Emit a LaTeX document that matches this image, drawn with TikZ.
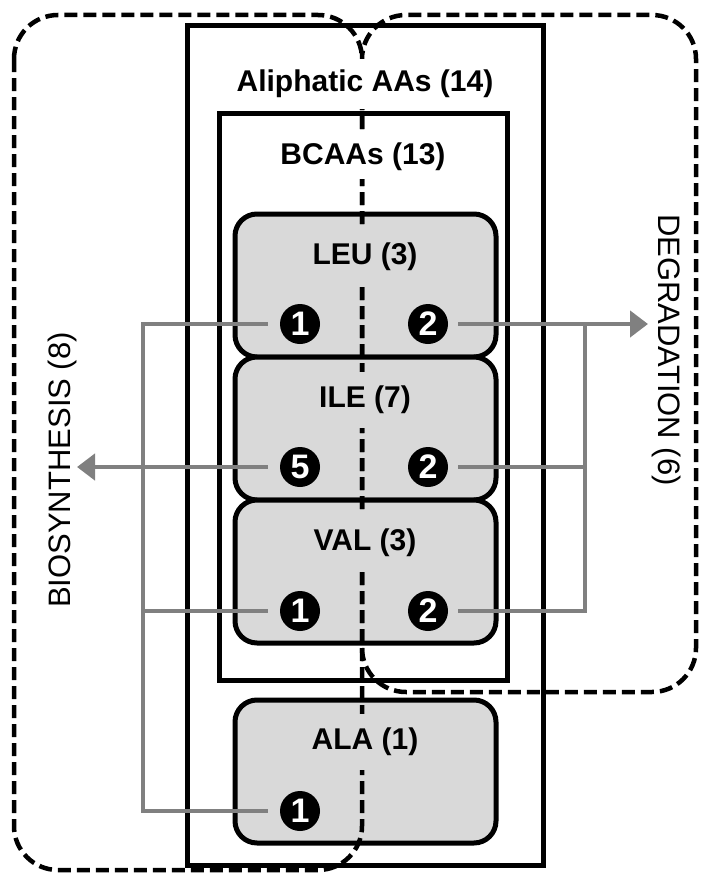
\documentclass[tikz,border=0pt]{standalone}
\usepackage{fontspec}
\setmainfont{Liberation Sans}
\usetikzlibrary{arrows.meta}
\definecolor{boxgray}{RGB}{217,217,217}
\definecolor{conngray}{RGB}{128,128,128}
\begin{document}
\begin{tikzpicture}[x=1pt,y=-1pt,
  outerframe/.style={draw=black,line width=5pt,rectangle,inner sep=0pt},
  aabox/.style={draw=black,line width=5pt,fill=boxgray,rounded corners=22pt,rectangle,inner sep=0pt,minimum width=261pt,minimum height=143pt},
  dashregion/.style={draw=black,line width=4.5pt,dash pattern=on 13pt off 6pt,rounded corners=44pt},
  titletext/.style={font=\bfseries\fontsize{30}{36}\selectfont,inner xsep=5pt,inner ysep=2pt},
  aalabel/.style={titletext,fill=boxgray,minimum height=56pt},
  badge/.style={circle,fill=black,minimum size=40pt,inner sep=0pt,text=white,font=\bfseries\fontsize{34}{34}\selectfont},
  conn/.style={draw=conngray,line width=4.5pt},
  arrowend/.style={-{Triangle[length=18pt,width=26pt]}},
  sidelabel/.style={font=\fontsize{31}{36}\selectfont,inner sep=0pt}
]
\useasboundingbox (0,0) rectangle (705,875);
% containers
\node[outerframe,minimum width=356pt,minimum height=839pt] (aliph) at (365,445.5) {};
\node[outerframe,minimum width=288pt,minimum height=567pt] (bcaa) at (363,396.5) {};
% amino acid boxes
\node[aabox] (leu) at (365.5,285.5) {};
\node[aabox] (ile) at (365.5,428.5) {};
\node[aabox] (val) at (365.5,571.5) {};
\node[aabox] (ala) at (365.5,771.5) {};
% dashed regions
\draw[dashregion] (14,15) rectangle (362,870);
\draw[dashregion] (362,15) rectangle (696,692);
% titles
\node[titletext,fill=white,minimum height=50pt] (aliphT) at (365,84) {Aliphatic AAs (14)};
\node[titletext,fill=white,minimum height=44pt] (bcaaT) at (363,157) {BCAAs (13)};
\node[aalabel] (leuT) at (365,257) {LEU (3)};
\node[aalabel] (ileT) at (365,400) {ILE (7)};
\node[aalabel] (valT) at (365,543) {VAL (3)};
\node[aalabel] (alaT) at (365,742) {ALA (1)};
% side labels
\node[sidelabel,rotate=90] (bio) at (62,470) {BIOSYNTHESIS (8)};
\node[sidelabel,rotate=-90] (deg) at (667,350) {DEGRADATION (6)};
% badges
\node[badge] (leu1) at (300,324) {1};
\node[badge] (leu2) at (428,324) {2};
\node[badge] (ile5) at (300,467) {5};
\node[badge] (ile2) at (428,467) {2};
\node[badge] (val1) at (300,611) {1};
\node[badge] (val2) at (428,611) {2};
\node[badge] (ala1) at (300,811) {1};
% junctions and tips
\coordinate (jl) at (143,324);
\coordinate (jr) at (585,324);
\coordinate (bioTip) at (77,467);
\coordinate (degTip) at (648,324);
% connectors
\draw[conn,shorten <=12pt,shorten >=12pt] (leu1.west) -- (jl) |- (ala1.west);
\draw[conn,shorten <=12pt] (val1.west) -- (val1.west -| jl);
\draw[conn,arrowend,shorten <=12pt] (ile5.west) -- (bioTip);
\draw[conn,arrowend,shorten <=10pt] (leu2.east) -- (degTip);
\draw[conn,shorten <=10pt] (ile2.east) -- (ile2.east -| jr);
\draw[conn,shorten <=10pt] (val2.east) -| (jr);
\end{tikzpicture}
\end{document}
